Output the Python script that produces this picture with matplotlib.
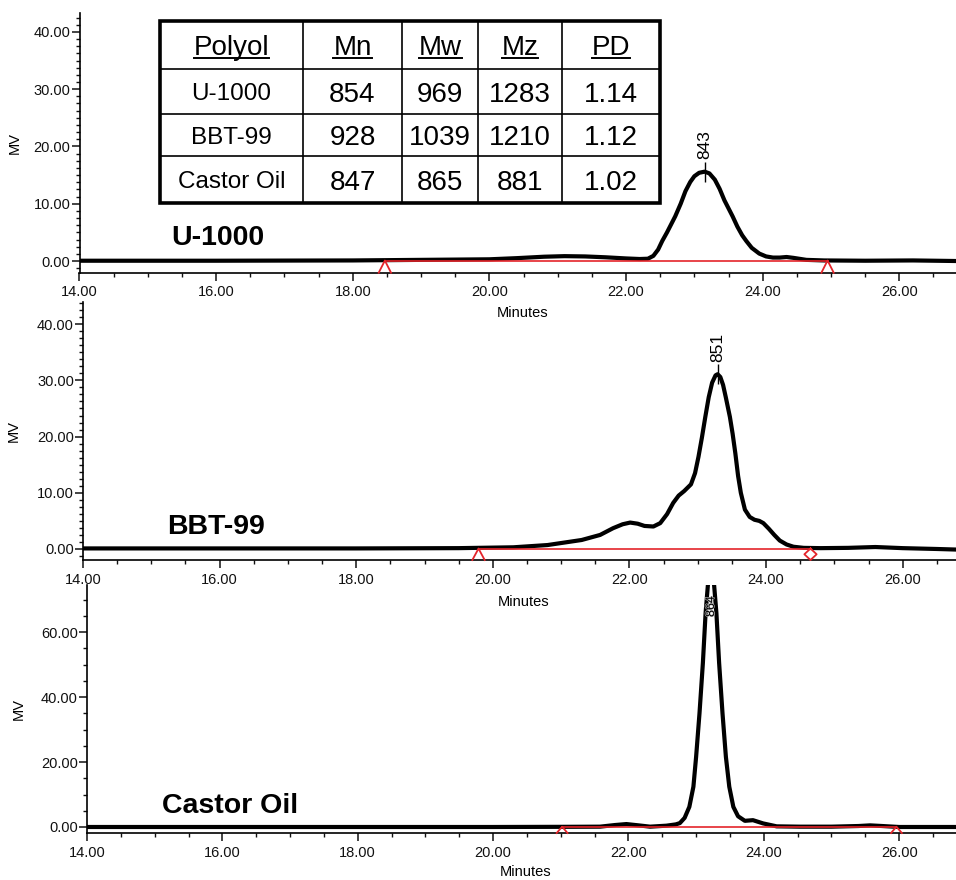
import matplotlib
matplotlib.use("Agg")
import numpy as np
import matplotlib.pyplot as plt
import matplotlib.patheffects as pe
from matplotlib.patches import Rectangle
from matplotlib.ticker import MultipleLocator, FormatStrFormatter

plt.rcParams["font.family"] = ["Liberation Sans", "DejaVu Sans"]

# table values
polyols = ["U-1000", "BBT-99", "Castor Oil"]
mn = [854, 928, 847]
mw = [969, 1039, 865]
mz = [1283, 1210, 881]
pdi = ["1.14", "1.12", "1.02"]
headers = ["Polyol", "Mn", "Mw", "Mz", "PD"]

# chromatograms (minutes, MV)
u1000_t = [14.0, 16.0, 18.0, 19.0, 20.0, 20.4, 20.8, 21.1, 21.4, 21.7, 22.0, 22.2, 22.32,
           22.4, 22.47, 22.53, 22.6, 22.66, 22.72, 22.8, 22.87, 22.94, 23.0, 23.07, 23.15,
           23.22, 23.3, 23.37, 23.44, 23.5, 23.56, 23.63, 23.7, 23.76, 23.84, 23.95, 24.05,
           24.15, 24.25, 24.35, 24.45, 24.64, 24.9, 25.5, 26.2, 26.83]
u1000_v = [0.05, 0.05, 0.1, 0.2, 0.3, 0.5, 0.75, 0.85, 0.8, 0.65, 0.45, 0.35, 0.4,
           0.9, 2.0, 3.5, 5.0, 6.4, 7.8, 10.0, 12.2, 13.8, 14.8, 15.4, 15.6,
           15.3, 14.2, 12.6, 10.6, 9.2, 7.8, 6.0, 4.5, 3.5, 2.3, 1.3, 0.8,
           0.6, 0.6, 0.7, 0.55, 0.2, 0.1, 0.05, 0.1, 0.0]

bbt_t = [14.0, 16.0, 18.0, 19.5, 20.3, 20.8, 21.3, 21.57, 21.76, 21.9, 22.01, 22.12, 22.22,
         22.35, 22.45, 22.55, 22.64, 22.72, 22.8, 22.9, 22.96, 23.01, 23.06, 23.11, 23.16,
         23.21, 23.26, 23.29, 23.33, 23.37, 23.41, 23.47, 23.51, 23.55, 23.59, 23.63, 23.69,
         23.76, 23.83, 23.9, 23.96, 24.04, 24.12, 24.2, 24.3, 24.4, 24.55, 24.8, 25.2,
         25.6, 26.0, 26.5, 26.78]
bbt_v = [0.1, 0.1, 0.1, 0.15, 0.3, 0.7, 1.6, 2.5, 3.7, 4.4, 4.7, 4.5, 4.1,
         4.0, 4.6, 6.2, 8.2, 9.5, 10.3, 11.5, 13.5, 16.4, 19.8, 23.5, 27.0,
         29.6, 30.9, 31.1, 30.6, 29.2, 27.0, 23.5, 20.5, 17.0, 13.0, 10.0, 7.0,
         5.7, 5.2, 5.0, 4.6, 3.6, 2.5, 1.5, 0.8, 0.4, 0.2, 0.15, 0.2,
         0.35, 0.15, 0.0, -0.1]

castor_t = [14.0, 16.0, 18.0, 20.0, 21.0, 21.58, 21.8, 21.97, 22.15, 22.32, 22.56, 22.7,
            22.76, 22.83, 22.9, 22.96, 23.0, 23.05, 23.1, 23.14, 23.18, 23.22, 23.26, 23.3,
            23.34, 23.39, 23.44, 23.49, 23.55, 23.62, 23.72, 23.84, 23.99, 24.19, 24.53,
            25.0, 25.4, 25.57, 25.75, 26.0, 26.84]
castor_v = [0.0, 0.0, 0.0, 0.0, 0.05, 0.1, 0.6, 0.9, 0.5, 0.1, 0.4, 0.8,
            1.2, 2.8, 6.2, 12.4, 21.6, 35.0, 50.5, 65.8, 76.0, 78.0, 76.0, 65.8,
            50.5, 35.0, 21.6, 12.4, 6.2, 3.3, 1.9, 2.1, 1.1, 0.2, 0.1,
            0.1, 0.3, 0.5, 0.3, 0.0, 0.0]

# integration baselines (start, end) and their end markers
u1000_base = [18.47, 24.95]
bbt_base = [19.79, 24.65]
castor_base = [21.02, 25.96]
base_level = 0.08

peak_labels = ["843", "851", "864"]

RED = "#e4242a"


def px_axes(fig, left, top, right, bottom):
    ax = fig.add_axes([left / 956, 1 - bottom / 880, (right - left) / 956, (bottom - top) / 880])
    ax.patch.set_visible(False)
    return ax


def style_axes(ax, xmax, ylim, ymajor, yminor, ylab_x, xlab_y):
    ax.set_xlim(14, xmax)
    ax.set_ylim(*ylim)
    for s in ["top", "right"]:
        ax.spines[s].set_visible(False)
    for s in ["left", "bottom"]:
        ax.spines[s].set_linewidth(1.2)
    ax.xaxis.set_major_locator(MultipleLocator(2))
    ax.xaxis.set_minor_locator(MultipleLocator(0.5))
    ax.yaxis.set_major_locator(MultipleLocator(ymajor))
    ax.yaxis.set_minor_locator(MultipleLocator(yminor))
    ax.xaxis.set_major_formatter(FormatStrFormatter("%.2f"))
    ax.yaxis.set_major_formatter(FormatStrFormatter("%.2f"))
    ax.tick_params(which="major", length=6, width=1.1, labelsize=10.5, colors="#111111")
    ax.tick_params(which="minor", length=3, width=1.0, colors="#111111")
    ax.tick_params(axis="y", which="major", pad=0.5)
    ax.tick_params(axis="x", which="major", pad=3)
    ax.set_xlabel("Minutes", fontsize=10.5)
    ax.set_ylabel("MV", fontsize=10.5)
    ax.yaxis.set_label_coords(ylab_x, 0.5)
    ax.xaxis.set_label_coords(0.505, xlab_y)


def caret(ax, t, y, w, bottom):
    ax.plot([t - w, t, t + w], [bottom, y, bottom], color=RED, lw=1.3, clip_on=False, zorder=5)


def diamond(ax, t, y, w, bottom):
    mid = (y + bottom) / 2
    ax.plot([t, t + w, t, t - w, t], [y, mid, bottom, mid, y], color=RED, lw=1.3,
            clip_on=False, zorder=5)


def draw_trace(ax, t, v, base, end_marker, label, lx, ly, peak_text, w):
    ax.plot(t, v, color="black", lw=3.0, solid_joinstyle="round", zorder=3)
    ax.plot(base, [base_level, base_level], color=RED, lw=1.2, zorder=4)
    bottom = ax.get_ylim()[0]
    caret(ax, base[0], base_level, w, bottom)
    if end_marker == "diamond":
        diamond(ax, base[1], base_level, w, bottom)
    else:
        caret(ax, base[1], base_level, w, bottom)
    ax.text(lx, ly, label, fontsize=20.5, fontweight="bold", va="center", ha="left")
    i = int(np.argmax(v))
    tp, vp = t[i], v[i]
    top = ax.get_ylim()[1]
    if vp < top:
        ax.plot([tp], [vp], marker="|", markersize=14, mew=1.0, color="black", zorder=4)
        ax.annotate(peak_text, xy=(tp, vp), xytext=(0, 9), textcoords="offset points",
                    rotation=90, ha="center", va="bottom", fontsize=12.5)
    else:
        ax.annotate(peak_text, xy=(tp, top), xytext=(0, -8), textcoords="offset points",
                    rotation=90, ha="center", va="top", fontsize=9, color="black",
                    path_effects=[pe.withStroke(linewidth=0.8, foreground="#bbbbbb")],
                    zorder=6)


def draw_table(fig):
    tab = px_axes(fig, 160, 21, 660, 203)
    tab.set_xlim(0, 500)
    tab.set_ylim(182, 0)
    tab.axis("off")
    cols = [0, 143, 242, 318, 402, 500]
    rows = [0, 48, 93, 135, 182]
    tab.add_patch(Rectangle((0, 0), 500, 182, fc="white", lw=2.6, ec="black", clip_on=False))
    for c in cols[1:-1]:
        tab.plot([c, c], [0, 182], color="black", lw=1.2, clip_on=False)
    for r in rows[1:-1]:
        tab.plot([0, 500], [r, r], color="black", lw=1.2, clip_on=False)
    centers = [(cols[k] + cols[k + 1]) / 2 for k in range(5)]
    head_txt = []
    for k, h in enumerate(headers):
        head_txt.append(tab.text(centers[k], 34, h, ha="center", va="baseline", fontsize=20))
    for j in range(3):
        yc = (rows[j + 1] + rows[j + 2]) / 2
        row = [polyols[j], str(mn[j]), str(mw[j]), str(mz[j]), pdi[j]]
        for k, val in enumerate(row):
            fs = 17.5 if k == 0 else 20
            tab.text(centers[k], yc, val, ha="center", va="center_baseline", fontsize=fs)
    r = fig.canvas.get_renderer()
    inv = tab.transData.inverted()
    for tx in head_txt:
        bb = tx.get_window_extent(renderer=r)
        x0 = inv.transform((bb.x0, bb.y0))[0]
        x1 = inv.transform((bb.x1, bb.y0))[0]
        tab.plot([x0, x1], [37.5, 37.5], color="black", lw=1.4, clip_on=False)


def run():
    fig = plt.figure(figsize=(9.56, 8.8), dpi=100)
    ax1 = px_axes(fig, 79.5, 13, 956, 272.7)
    ax2 = px_axes(fig, 83, 302, 956, 560)
    ax3 = px_axes(fig, 87, 585, 956, 833)
    style_axes(ax1, 26.83, (-2.04, 43.3), 10, 1.25, -0.066, -0.13)
    style_axes(ax2, 26.78, (-1.96, 43.95), 10, 1.25, -0.071, -0.135)
    style_axes(ax3, 26.84, (-1.85, 74.5), 20, 5, -0.070, -0.128)
    draw_trace(ax1, u1000_t, u1000_v, u1000_base, "caret", "U-1000", 15.35, 4.0,
               peak_labels[0], 0.09)
    draw_trace(ax2, bbt_t, bbt_v, bbt_base, "diamond", "BBT-99", 15.23, 3.9,
               peak_labels[1], 0.09)
    draw_trace(ax3, castor_t, castor_v, castor_base, "caret", "Castor Oil", 15.11, 6.5,
               peak_labels[2], 0.08)
    draw_table(fig)
    fig.savefig("out.png", dpi=100)
    plt.close(fig)


if __name__ == "__main__":
    run()
